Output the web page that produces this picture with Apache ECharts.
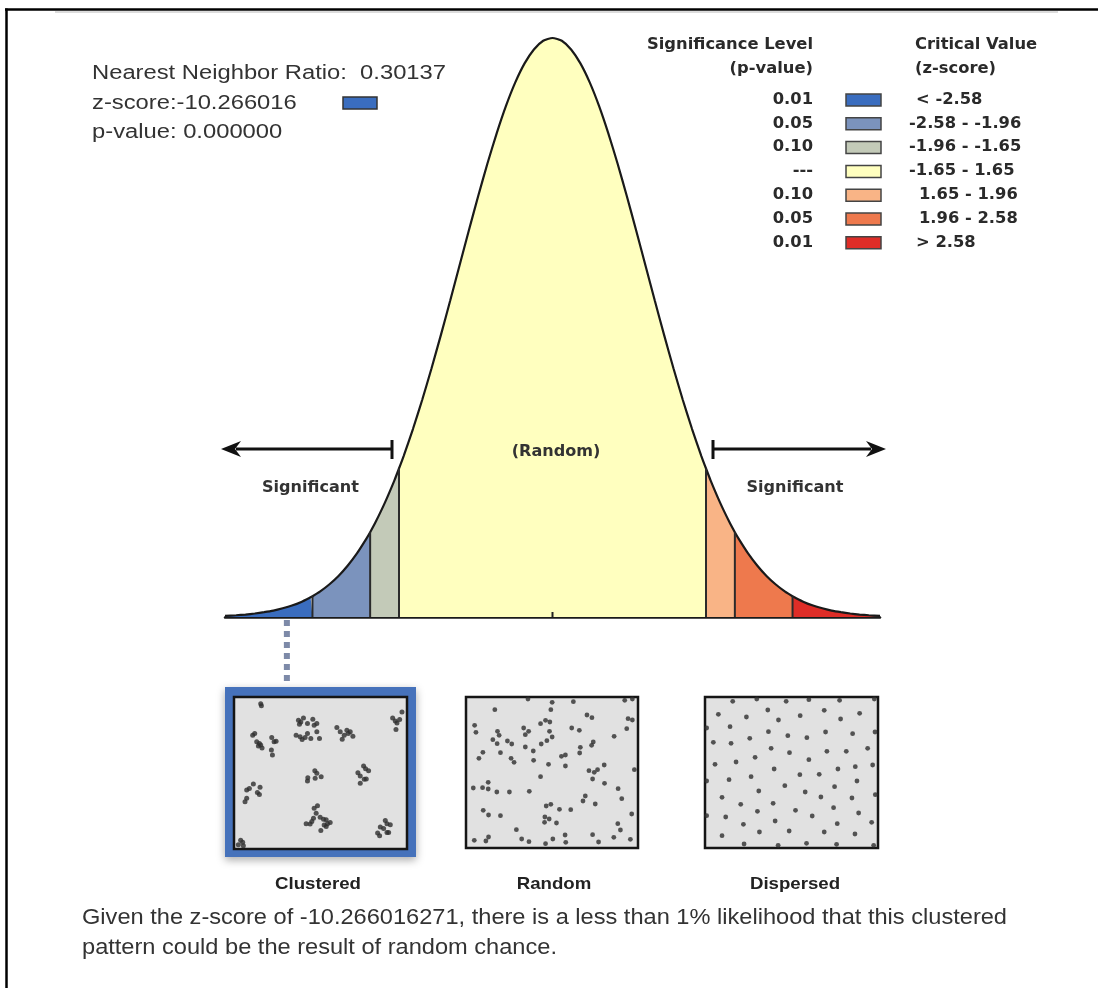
<!DOCTYPE html>
<html><head><meta charset="utf-8">
<script src="https://cdn.jsdelivr.net/npm/echarts@6/dist/echarts.min.js"></script>
<style>html,body{margin:0;padding:0;background:#fff}#c{width:1098px;height:988px}</style>
</head><body><div id="c"></div><script>
// ---------- data ----------
const nnRatio = '0.30137';
const zScore = '-10.266016';
const zScoreFull = '-10.266016271';
const pValue = '0.000000';
const markerZ = -2.855; // where the observed z-score marker is drawn on the curve (clamped to the tail)

const curveZ = [-3.52,-3.4,-3.3,-3.2,-3.1,-3.0,-2.9,-2.8,-2.7,-2.6,-2.58,-2.5,-2.4,-2.3,-2.2,-2.1,-2.0,-1.96,-1.9,-1.8,-1.7,-1.65,-1.6,-1.5,-1.4,-1.3,-1.2,-1.1,-1.0,-0.9,-0.8,-0.7,-0.6,-0.5,-0.4,-0.3,-0.2,-0.1,0,
  0.1,0.2,0.3,0.4,0.5,0.6,0.7,0.8,0.9,1.0,1.1,1.2,1.3,1.4,1.5,1.6,1.65,1.7,1.8,1.9,1.96,2.0,2.1,2.2,2.3,2.4,2.5,2.58,2.6,2.7,2.8,2.9,3.0,3.1,3.2,3.3,3.4,3.52];
const curveDensity = [0.0008,0.0012,0.0017,0.0024,0.0033,0.0044,0.0060,0.0079,0.0104,0.0136,0.0143,0.0175,0.0224,0.0283,0.0355,0.0440,0.0540,0.0584,0.0656,0.0790,0.0940,0.1023,0.1109,0.1295,0.1497,0.1714,0.1942,0.2179,0.2420,0.2661,0.2897,0.3123,0.3332,0.3521,0.3683,0.3814,0.3910,0.3970,0.3989,
  0.3970,0.3910,0.3814,0.3683,0.3521,0.3332,0.3123,0.2897,0.2661,0.2420,0.2179,0.1942,0.1714,0.1497,0.1295,0.1109,0.1023,0.0940,0.0790,0.0656,0.0584,0.0540,0.0440,0.0355,0.0283,0.0224,0.0175,0.0143,0.0136,0.0104,0.0079,0.0060,0.0044,0.0033,0.0024,0.0017,0.0012,0.0008];

const bandEdges = [-3.52,-2.58,-1.96,-1.65,1.65,1.96,2.58,3.52];
const bandColors = ['#3a6dbf','#7b93bd','#c3cab8','#ffffbf','#f9b486','#ee794d','#df2d27'];
const sigLevels = ['0.01','0.05','0.10','---','0.10','0.05','0.01'];
const criticalRanges = ['< -2.58','-2.58 - -1.96','-1.96 - -1.65','-1.65 - 1.65','1.65 - 1.96','1.96 - 2.58','> 2.58'];
const patternNames = ['Clustered','Random','Dispersed'];

const clusteredDots = [[122,70],[124,76],
 [98,165],[104,160],[110,185],[118,190],[115,198],[122,195],[126,204],[155,172],[162,185],[168,183],[154,210],[157,225],
 [235,120],[242,125],[250,113],[238,132],[262,130],[278,117],[282,135],[290,130],[228,165],[240,170],[246,178],[262,160],[272,175],[290,155],[298,175],[255,172],
 [350,142],[360,155],[372,165],[366,177],[380,150],[390,155],[398,168],[384,160],
 [545,95],[517,113],[525,122],[530,128],[538,118],[527,148],
 [284,272],[290,280],[263,293],[262,303],[285,295],[303,290],
 [430,258],[436,266],[445,272],[413,278],[420,288],[432,298],[438,297],[420,310],
 [100,312],[120,322],[80,330],[88,326],[112,338],[118,344],[80,355],[75,366],
 [292,378],[282,385],[288,400],[280,415],[300,412],[310,418],[318,420],[275,425],[258,432],[270,433],[312,436],[318,440],[330,428],[302,452],[322,432],
 [495,422],[500,432],[510,435],[480,442],[490,446],[505,458],[472,460],[478,468],[500,458],
 [62,482],[68,488],[55,495],[70,498]];
const randomDots = [[105,90],[205,58],[278,68],[342,66],[497,62],[520,58],[274,90],[383,106],[398,114],[507,117],[520,121],[44,137],[48,158],[192,145],[207,155],[197,165],[243,132],[258,122],[271,127],[270,155],[337,145],[360,152],[278,172],[113,155],[118,167],[99,180],[112,192],[143,184],[156,193],[197,202],[245,193],[262,183],[465,170],[503,147],[402,187],[397,197],[69,218],[57,236],[122,219],[154,236],[163,248],[221,214],[222,242],[363,203],[361,220],[306,230],[318,226],[318,259],[267,254],[435,256],[389,273],[405,278],[415,270],[400,298],[526,270],[243,291],[85,308],[40,325],[68,324],[85,328],[111,337],[149,337],[209,335],[436,311],[477,327],[378,349],[371,364],[408,373],[488,357],[70,392],[86,406],[122,408],[260,379],[274,374],[300,389],[334,390],[256,412],[269,418],[255,428],[291,430],[476,432],[484,451],[518,403],[170,450],[186,478],[208,486],[280,478],[317,466],[319,488],[258,492],[400,465],[418,487],[464,473],[514,479],[43,482],[78,484],[86,472]];
const dispersedDots = [[98,65],[170,58],[258,65],[326,60],[418,62],[522,58],[55,104],[139,112],[203,91],[235,121],[300,108],[372,92],[421,118],[478,101],[90,141],[205,156],[263,168],[320,174],[376,157],[457,162],[524,157],[40,188],[93,191],[149,176],[213,206],[268,219],[380,215],[438,215],[502,206],[165,233],[45,254],[108,247],[222,268],[326,240],[413,268],[465,261],[517,256],[87,300],[153,291],[299,285],[357,284],[470,304],[254,318],[176,334],[315,337],[403,321],[525,345],[66,353],[122,374],[219,371],[362,352],[455,355],[172,395],[286,392],[336,409],[400,384],[475,400],[77,412],[130,434],[225,424],[411,432],[514,428],[178,457],[267,454],[372,457],[464,463],[66,468],[132,493],[234,497],[319,491],[409,494],[520,497],[20,304],[20,408],[20,145]];

// ---------- layout helpers ----------
const mctx = document.createElement('canvas').getContext('2d');
function measure(str, weight, size, family){ mctx.font = weight+' '+size+'px '+family; return mctx.measureText(str).width; }
function fitScale(str, weight, size, family, target){ return target / measure(str, weight, size, family); }
function txt(str, x, y, f, align, color){
  return {type:'text', x:x, y:y, scaleX:f.s, z:20,
    style:{text:str, fontSize:f.size, fontFamily:f.family, fontWeight:f.weight, fill:color||'#333', align:align||'left', verticalAlign:'middle'}};
}
const ARIAL = '"Liberation Sans", Arial, sans-serif';
const BOLD = '"DejaVu Sans", Verdana, sans-serif';
const fTitle = {size:20, family:ARIAL, weight:'normal'};
fTitle.s = fitScale('Nearest Neighbor Ratio:  '+nnRatio, 'normal', 20, ARIAL, 354);
const fLeg = {size:15, family:BOLD, weight:'bold'};
fLeg.s = fitScale('Significance Level', 'bold', 15, BOLD, 166);
const fLab = {size:15, family:BOLD, weight:'bold'};
fLab.s = fitScale('Significant', 'bold', 15, BOLD, 97);
const fPat = {size:17, family:ARIAL, weight:'bold'};
fPat.s = fitScale('Clustered', 'bold', 17, ARIAL, 86);
const fCap = {size:22, family:ARIAL, weight:'normal'};
const capLine1 = 'Given the z-score of '+zScoreFull+', there is a less than 1% likelihood that this clustered';
const capLine2 = 'pattern could be the result of random chance.';
fCap.s = fitScale(capLine1, 'normal', 22, ARIAL, 925);

const graphics = [];
// frame
graphics.push({type:'line', shape:{x1:5,y1:9.5,x2:1098,y2:9.5}, style:{stroke:'#000',lineWidth:2.5}});
graphics.push({type:'line', shape:{x1:6.5,y1:8.5,x2:6.5,y2:988}, style:{stroke:'#000',lineWidth:2.5}});
graphics.push({type:'line', shape:{x1:55,y1:12,x2:1058,y2:12}, style:{stroke:'#dcdcdc',lineWidth:2}});
// top-left statistics
graphics.push(txt('Nearest Neighbor Ratio:  '+nnRatio, 92, 73, fTitle, 'left', '#333'));
graphics.push(txt('z-score:'+zScore, 92, 103, fTitle, 'left', '#333'));
graphics.push(txt('p-value: '+pValue, 92, 132, fTitle, 'left', '#333'));
graphics.push({type:'rect', shape:{x:343,y:97,width:34,height:12}, style:{fill:bandColors[0],stroke:'#333',lineWidth:1.5}});
// legend
graphics.push(txt('Significance Level', 813, 45, fLeg, 'right', '#2a2a2a'));
graphics.push(txt('(p-value)', 813, 69, fLeg, 'right', '#2a2a2a'));
graphics.push(txt('Critical Value', 915, 45, fLeg, 'left', '#2a2a2a'));
graphics.push(txt('(z-score)', 915, 69, fLeg, 'left', '#2a2a2a'));
sigLevels.forEach((p, i) => {
  const y = 100 + i*23.8;
  graphics.push(txt(p, 813, y, fLeg, 'right', '#2a2a2a'));
  graphics.push({type:'rect', z:20, shape:{x:846,y:y-6,width:35,height:12}, style:{fill:bandColors[i],stroke:'#444',lineWidth:1.5}});
  const r = criticalRanges[i];
  const lx = r[0]==='-' ? 909 : (r[0]==='<'||r[0]==='>' ? 916 : 919);
  graphics.push(txt(r, lx, y, fLeg, 'left', '#2a2a2a'));
});
// curve labels
graphics.push(txt('Significant', 310.5, 488, fLab, 'center', '#333'));
graphics.push(txt('Significant', 795, 488, fLab, 'center', '#333'));
graphics.push(txt('(Random)', 556, 452, fLab, 'center', '#333'));
// arrows
graphics.push({type:'line', shape:{x1:236,y1:449,x2:392,y2:449}, style:{stroke:'#111',lineWidth:3}});
graphics.push({type:'line', shape:{x1:392,y1:440,x2:392,y2:459}, style:{stroke:'#111',lineWidth:3}});
graphics.push({type:'polygon', shape:{points:[[221,449],[241,441],[235,449],[241,457]]}, style:{fill:'#111'}});
graphics.push({type:'line', shape:{x1:713,y1:449,x2:871,y2:449}, style:{stroke:'#111',lineWidth:3}});
graphics.push({type:'line', shape:{x1:713,y1:440,x2:713,y2:459}, style:{stroke:'#111',lineWidth:3}});
graphics.push({type:'polygon', shape:{points:[[886,449],[866,441],[872,449],[866,457]]}, style:{fill:'#111'}});
// clustered panel blue frame with shadow
graphics.push({type:'rect', z:-1, shape:{x:229.5,y:691.5,width:182,height:161}, style:{fill:'none',stroke:'#4672bb',lineWidth:9,shadowBlur:8,shadowColor:'rgba(0,0,0,0.35)',shadowOffsetY:3}});
// pattern labels
const patCenters = [318, 554, 795];
patternNames.forEach((n, i) => graphics.push(txt(n, patCenters[i], 884, fPat, 'center', '#222')));
// caption
graphics.push(txt(capLine1, 82, 918, fCap, 'left', '#333'));
graphics.push(txt(capLine2, 82, 948, fCap, 'left', '#333'));

// ---------- series ----------
const curvePts = curveZ.map((z, i) => [z, curveDensity[i]]);
const series = [];
bandColors.forEach((c, i) => {
  const a = bandEdges[i], b = bandEdges[i+1];
  series.push({type:'line', xAxisIndex:0, yAxisIndex:0, data: curvePts.filter(p => p[0] >= a-1e-9 && p[0] <= b+1e-9),
    showSymbol:false, symbol:'none', lineStyle:{width:0}, areaStyle:{color:c, opacity:1}, z:2, silent:true});
});
series.push({type:'line', xAxisIndex:0, yAxisIndex:0, data:curvePts, showSymbol:false, symbol:'none', smooth:0.2,
  lineStyle:{color:'#1a1a1a', width:2.2}, z:4, silent:true});
const dividerPts = bandEdges.slice(1, -1).map(e => [e, curveDensity[curveZ.indexOf(e)]]);
series.push({type:'custom', xAxisIndex:0, yAxisIndex:0, data:dividerPts, z:5, silent:true,
  renderItem:(params, api) => { const p0 = api.coord([api.value(0), 0]); const p1 = api.coord([api.value(0), api.value(1)]);
    return {type:'line', shape:{x1:p0[0],y1:p0[1],x2:p1[0],y2:p1[1]}, style:{stroke:'#2b2b2b', lineWidth:2}}; }});
series.push({type:'custom', xAxisIndex:0, yAxisIndex:0, data:[[0, 0]], z:6, silent:true,
  renderItem:(params, api) => { const p = api.coord([api.value(0), 0]);
    return {type:'line', shape:{x1:p[0],y1:p[1],x2:p[0],y2:p[1]-5}, style:{stroke:'#222', lineWidth:2}}; }});
series.push({type:'custom', xAxisIndex:0, yAxisIndex:0, data:[[markerZ, 0]], z:6, silent:true, clip:false,
  renderItem:(params, api) => { const p = api.coord([api.value(0), 0]);
    return {type:'line', shape:{x1:p[0],y1:p[1]+3,x2:p[0],y2:686}, style:{stroke:'#7d8aa8', lineWidth:6, lineDash:[6,5]}}; }});
const dotSets = [clusteredDots, randomDots, dispersedDots];
dotSets.forEach((d, i) => series.push({type:'scatter', xAxisIndex:i+1, yAxisIndex:i+1, data:d, symbolSize: i===0?5:4.8,
  itemStyle:{color:'#2e2e2e'}, silent:true, z:3}));

// panel grids and extents (sketch units per panel)
const panelGrids = [
  {left:234, top:697, width:173, height:152},
  {left:466, top:697, width:172, height:151},
  {left:705, top:697, width:173, height:151}];
const panelExtents = [[42,560,50,508],[18,537,52,505],[15,533,52,505]];

const grids = [{left:225, right:218, top:36.4, bottom:371}];
panelGrids.forEach(g => grids.push(Object.assign({show:true, backgroundColor:'#e1e1e1', borderColor:'#151515', borderWidth:2.5}, g)));
const xAxes = [{gridIndex:0, type:'value', min:-3.52, max:3.52,
  axisLine:{show:true, onZero:false, lineStyle:{color:'#1a1a1a', width:2.5}}, axisTick:{show:false}, axisLabel:{show:false}, splitLine:{show:false}}];
const yAxes = [{gridIndex:0, type:'value', min:0, max:0.4, show:false, splitLine:{show:false}}];
panelExtents.forEach((e, i) => {
  xAxes.push({gridIndex:i+1, type:'value', min:e[0], max:e[1], show:false, splitLine:{show:false}});
  yAxes.push({gridIndex:i+1, type:'value', min:e[2], max:e[3], inverse:true, show:false, splitLine:{show:false}});
});

const chart = echarts.init(document.getElementById('c'), null, {renderer:'canvas'});
chart.setOption({
  backgroundColor:'#fff', animation:false,
  grid: grids, xAxis: xAxes, yAxis: yAxes, series: series,
  graphic: {elements: graphics}
});
</script></body></html>
